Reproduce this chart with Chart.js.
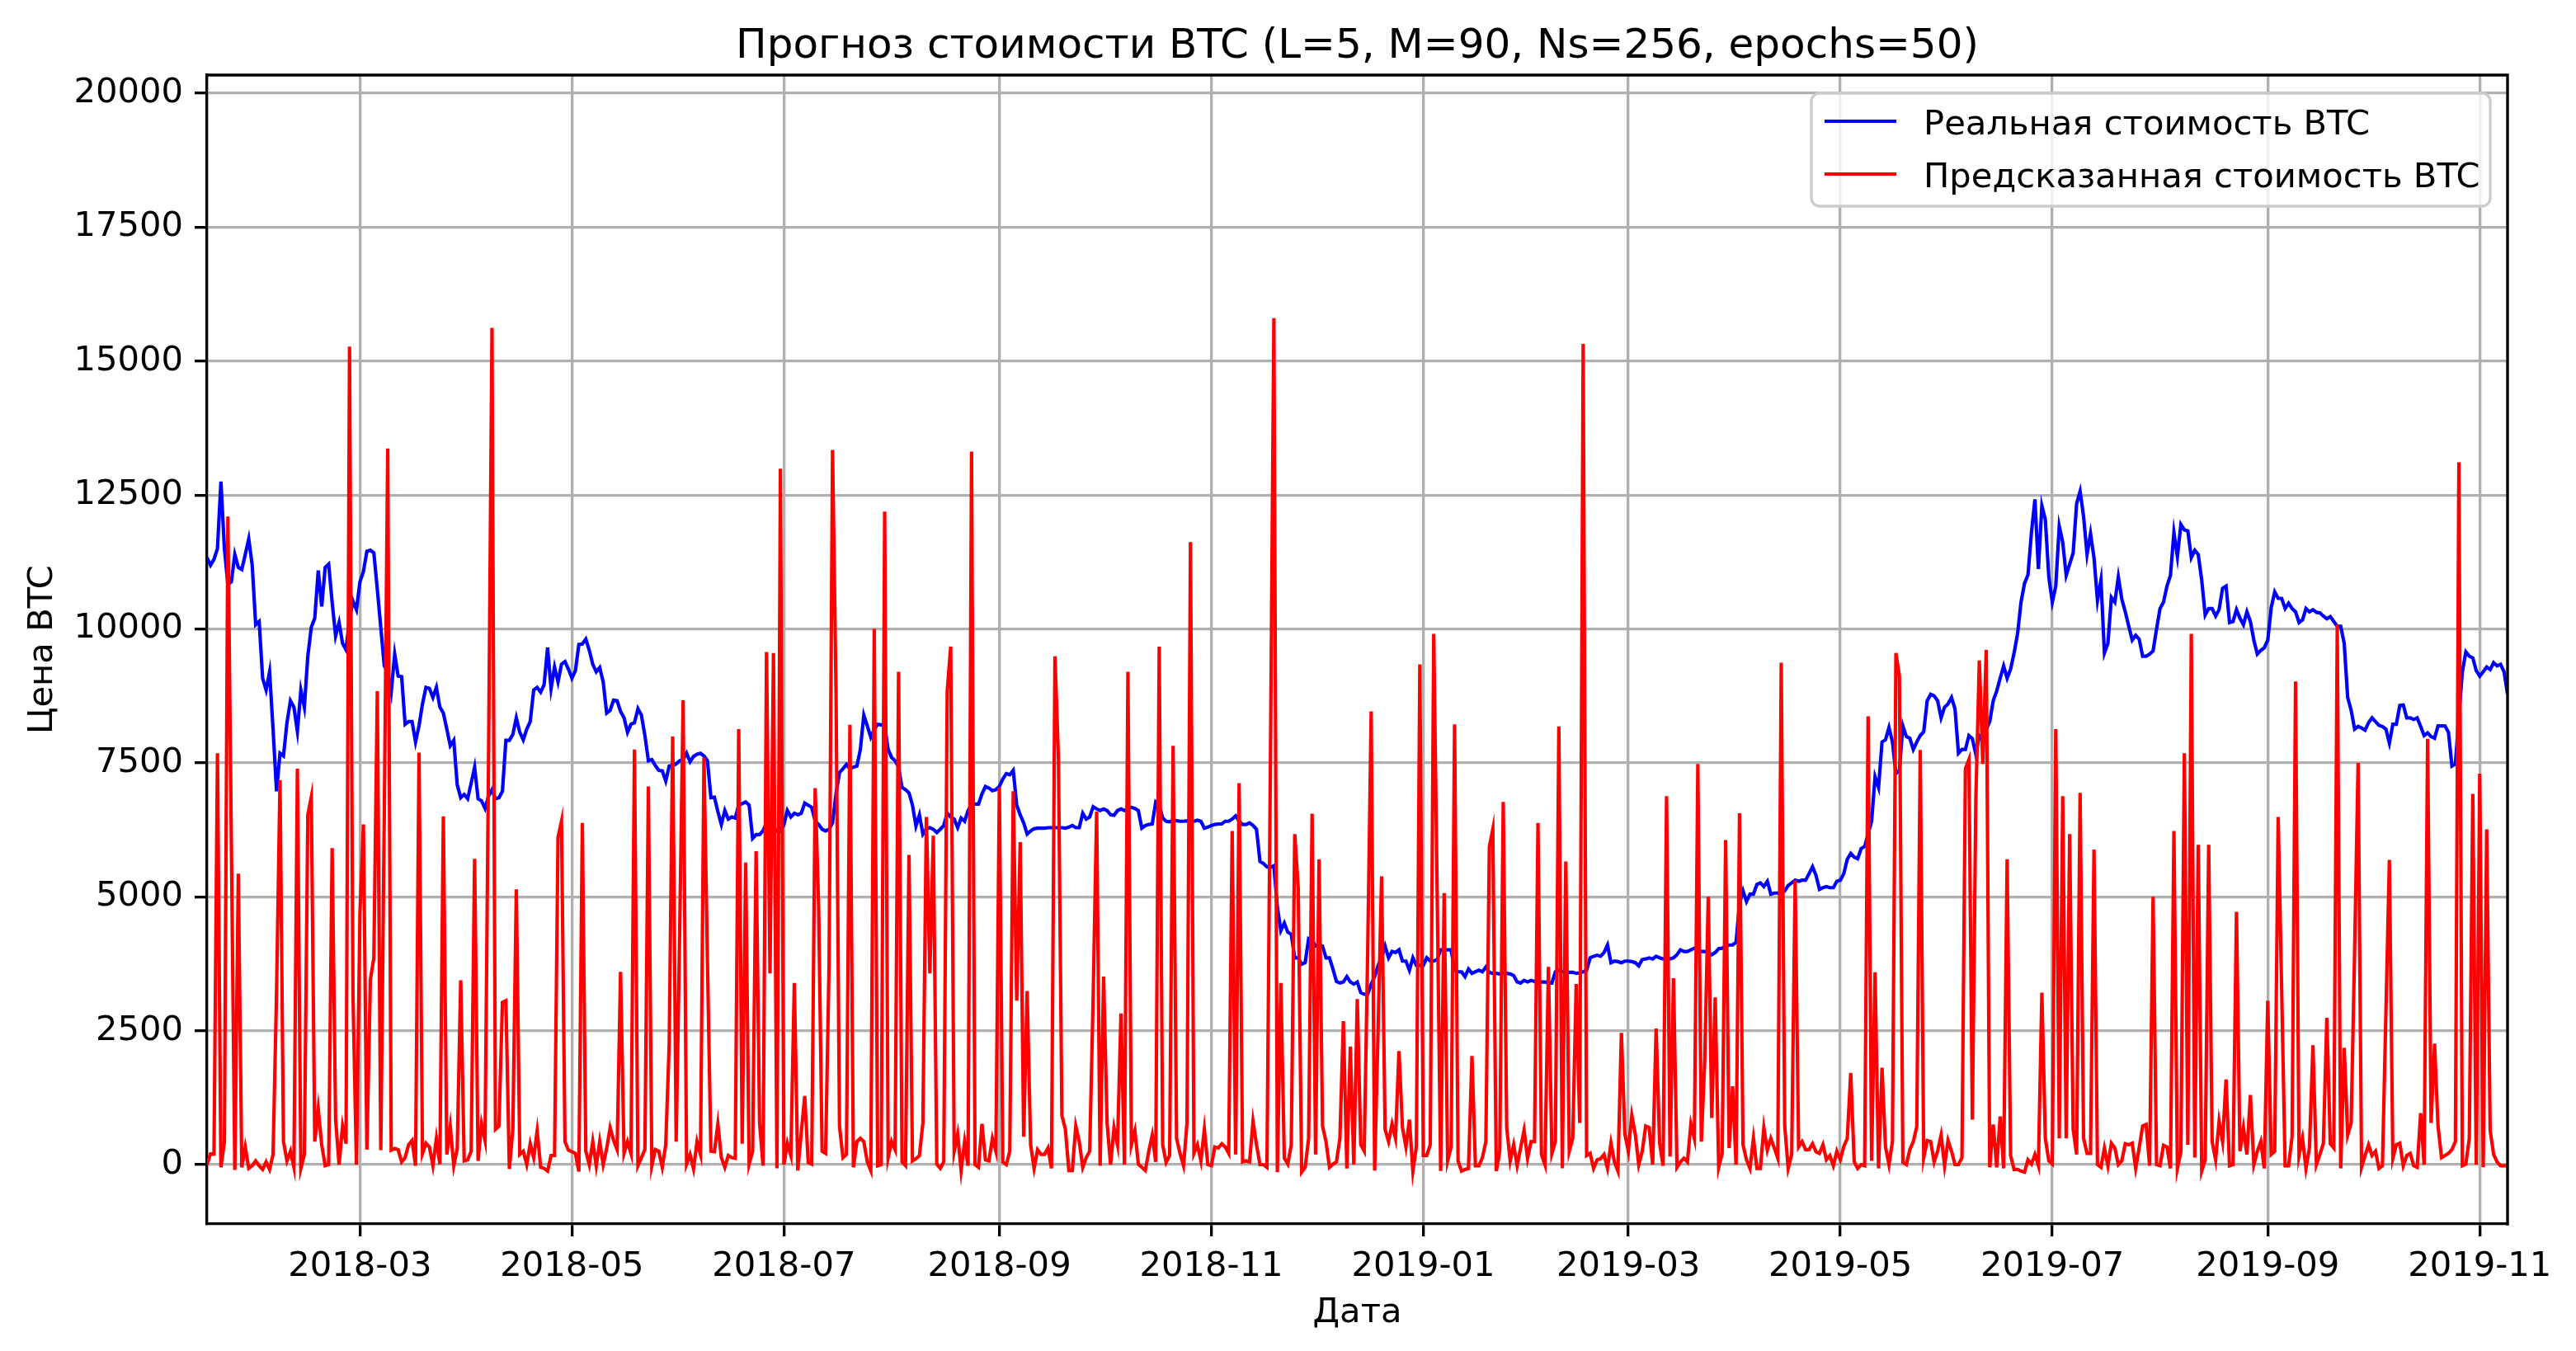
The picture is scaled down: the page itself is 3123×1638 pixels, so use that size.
<!DOCTYPE html>
<html lang="ru">
<head>
    <meta charset="UTF-8">
    <title>Прогноз стоимости BTC</title>
    <script src="https://cdn.jsdelivr.net/npm/chart.js"></script>
    <style>
        html, body { margin: 0; padding: 0; background: #fff; }
        canvas { display: block; }
    </style>
</head>
<body>
<canvas id="grafico" width="3123" height="1638"></canvas>

<script>
    // first day shown on the x axis, one point per day after it
    const startDate = '2018-01-16';

    const monthTicks = ['2018-03', '2018-05', '2018-07', '2018-09', '2018-11',
        '2019-01', '2019-03', '2019-05', '2019-07', '2019-09', '2019-11'];

    const priceTicks = [0, 2500, 5000, 7500, 10000, 12500, 15000, 17500, 20000];

    const realPrice = [
        11330, 11190, 11300, 11500, 12750, 11500, 10830, 10880, 11390, 11150,
        11110, 11390, 11680, 11190, 10080, 10140, 9080, 8860, 9200, 8130,
        6970, 7680, 7630, 8250, 8660, 8540, 8090, 8860, 8540, 9490,
        10030, 10200, 11090, 10420, 11150, 11210, 10500, 9870, 10120, 9730,
        9610, 10200, 10520, 10360, 10880, 11070, 11450, 11470, 11420, 10740,
        10030, 9310, 9200, 8820, 9530, 9120, 9110, 8220, 8270, 8270,
        7890, 8190, 8600, 8910, 8890, 8720, 8910, 8540, 8430, 8130,
        7820, 7920, 7090, 6850, 6910, 6830, 7120, 7420, 6830, 6790,
        6650, 6880, 7000, 6830, 6850, 6970, 7920, 7920, 8030, 8340,
        8070, 7930, 8130, 8270, 8860, 8910, 8820, 8960, 9650, 8890,
        9290, 9010, 9340, 9390, 9250, 9080, 9220, 9710, 9720, 9810,
        9600, 9340, 9200, 9280, 9010, 8430, 8480, 8670, 8660, 8460,
        8340, 8070, 8220, 8250, 8510, 8390, 8010, 7540, 7560, 7450,
        7360, 7350, 7160, 7440, 7450, 7480, 7540, 7560, 7680, 7520,
        7620, 7660, 7680, 7630, 7540, 6850, 6860, 6590, 6350, 6610,
        6450, 6490, 6470, 6710, 6740, 6770, 6710, 6090, 6160, 6160,
        6230, 6380, 6110, 6290, 6230, 6230, 6350, 6610, 6490, 6560,
        6530, 6560, 6750, 6710, 6670, 6410, 6350, 6260, 6230, 6260,
        6380, 6920, 7320, 7390, 7470, 7390, 7420, 7440, 7750, 8390,
        8190, 7980, 8130, 8220, 8210, 8190, 7750, 7600, 7540, 7420,
        7040, 7000, 6940, 6710, 6320, 6530, 6170, 6270, 6290, 6260,
        6200, 6260, 6330, 6560, 6490, 6450, 6290, 6470, 6410, 6610,
        6710, 6730, 6730, 6920, 7060, 7030, 6980, 7000, 7060, 7200,
        7300, 7280, 7360, 6710, 6530, 6380, 6170, 6230, 6270, 6280,
        6280, 6280, 6290, 6290, 6290, 6290, 6290, 6280, 6300, 6330,
        6290, 6290, 6560, 6450, 6490, 6680, 6640, 6610, 6640, 6610,
        6530, 6520, 6610, 6640, 6610, 6650, 6670, 6650, 6610, 6280,
        6330, 6350, 6360, 6770, 6710, 6470, 6410, 6400, 6430, 6420,
        6410, 6410, 6420, 6400, 6410, 6430, 6410, 6280, 6300, 6330,
        6350, 6360, 6360, 6410, 6410, 6450, 6510, 6410, 6350, 6350,
        6380, 6330, 6260, 5660, 5620, 5560, 5550, 5580, 4810, 4370,
        4510, 4340, 4300, 3860, 3860, 3740, 3770, 4220, 4190, 4080,
        4100, 4080, 3860, 3860, 3650, 3420, 3390, 3410, 3510, 3410,
        3370, 3410, 3210, 3180, 3180, 3370, 3510, 3720, 3860, 4080,
        3860, 3980, 3960, 4010, 3800, 3800, 3630, 3860, 3720, 3720,
        3720, 3860, 3800, 3800, 3830, 4010, 4010, 4010, 4010, 3630,
        3600, 3600, 3510, 3650, 3570, 3600, 3630, 3600, 3690, 3590,
        3570, 3570, 3560, 3570, 3570, 3560, 3530, 3410, 3390, 3440,
        3410, 3440, 3420, 3410, 3410, 3410, 3390, 3390, 3600, 3630,
        3600, 3600, 3590, 3590, 3570, 3580, 3600, 3630, 3860, 3890,
        3910, 3890, 3960, 4100, 3770, 3800, 3790, 3770, 3800, 3800,
        3790, 3770, 3710, 3830, 3840, 3860, 3840, 3890, 3860, 3840,
        3860, 3840, 3860, 3920, 4010, 3980, 3980, 4010, 4040, 4010,
        3980, 3980, 3960, 3920, 3960, 4030, 4040, 4080, 4100, 4100,
        4150, 4880, 5110, 4910, 5050, 5050, 5230, 5260, 5190, 5290,
        5050, 5070, 5070, 5050, 5110, 5210, 5260, 5310, 5290, 5310,
        5310, 5430, 5560, 5400, 5140, 5170, 5190, 5170, 5170, 5290,
        5310, 5430, 5700, 5810, 5740, 5710, 5900, 5940, 6170, 6410,
        7240, 7040, 7890, 7930, 8160, 7890, 7300, 7360, 8190, 7990,
        7960, 7750, 7890, 8010, 8080, 8660, 8780, 8750, 8660, 8340,
        8540, 8600, 8720, 8510, 7680, 7750, 7750, 8010, 7950, 7660,
        8010, 7950, 8130, 8270, 8660, 8840, 9080, 9310, 9080, 9250,
        9550, 9910, 10500, 10850, 11010, 11800, 12420, 11120, 12300, 12040,
        10970, 10500, 10800, 11920, 11620, 11000, 11210, 11420, 12340, 12570,
        12100, 11390, 11780, 11330, 10530, 10910, 9550, 9730, 10590, 10500,
        10970, 10560, 10320, 10050, 9790, 9880, 9810, 9490, 9490, 9530,
        9590, 10000, 10380, 10500, 10800, 11000, 11800, 11350, 11950, 11850,
        11830, 11330, 11470, 11390, 10910, 10260, 10380, 10380, 10240, 10360,
        10760, 10800, 10120, 10140, 10360, 10200, 10080, 10320, 10140, 9790,
        9530, 9600, 9650, 9790, 10400, 10690, 10570, 10570, 10380, 10480,
        10380, 10320, 10120, 10170, 10380, 10320, 10360, 10310, 10300, 10240,
        10190, 10230, 10140, 10050, 10050, 9730, 8720, 8480, 8130, 8180,
        8150, 8110, 8250, 8340, 8270, 8200, 8180, 8130, 7870, 8220,
        8220, 8570, 8580, 8340, 8340, 8310, 8340, 8180, 8010, 8060,
        7990, 7960, 8190, 8190, 8190, 8070, 7440, 7480, 8370, 9200,
        9570, 9490, 9460, 9220, 9120, 9200, 9290, 9240, 9370, 9310,
        9340, 9200, 8780
    ];

    const predPrice = [
        0, 200, 200, 7680, -50, 430, 12100, 6000, -100, 5430,
        -50, 330, -70, -20, 70, -20, -90, 50, -90, 190,
        3200, 7180, 430, 70, 250, -50, 7390, -70, 190, 6530,
        6860, 430, 1040, 370, -20, 0, 5910, 840, 0, 720,
        390, 15270, 3150, 0, 4690, 6350, 280, 3450, 3860, 8840,
        270, 6500, 13370, 270, 300, 280, 50, 130, 370, 450,
        -20, 7690, 210, 400, 330, -20, 490, 10, 6500, 190,
        710, -20, 300, 3440, 70, 90, 250, 5710, 70, 760,
        450, 7500, 15620, 660, 720, 3030, 3060, -80, 660, 5140,
        190, 250, 0, 390, 130, 630, -50, -70, -120, 170,
        170, 6110, 6410, 430, 270, 240, 210, -130, 6380, 250,
        0, 430, -20, 430, 0, 300, 690, 450, 280, 3600,
        210, 430, 210, 7750, -20, 130, 280, 7060, -20, 280,
        250, -50, 370, 2260, 7990, 430, 4300, 8670, 10, 190,
        -80, 430, 190, 7600, 3800, 250, 240, 760, 130, -50,
        170, 130, 120, 8130, 390, 5640, 10, 250, 5850, 780,
        -20, 9570, 3570, 9550, -70, 12990, 0, 400, 170, 3390,
        -110, 600, 1280, 40, 10, 7030, 4810, 250, 210, 3740,
        13340, 8840, 720, 130, 190, 8210, -50, 430, 490, 430,
        50, -110, 10000, -20, 0, 12190, 130, 430, 280, 9200,
        50, -20, 5780, 70, 110, 170, 780, 6490, 3570, 6140,
        10, -70, 50, 8840, 9670, 250, 570, -110, 430, -20,
        13310, 0, -50, 760, 90, 70, 490, 250, 7040, 50,
        0, 250, 6970, 3060, 6020, 520, 3240, 370, -70, 280,
        190, 190, 310, -70, 9490, 7600, 920, 660, -110, -110,
        720, 430, -50, 130, 250, 3150, 6590, -20, 3510, 780,
        0, 690, 370, 2820, 0, 9200, 370, 630, 10, -50,
        -110, 250, 550, 50, 9670, 370, 40, 170, 7820, 490,
        210, -20, 780, 11620, 210, 370, 70, 660, 0, -20,
        330, 310, 390, 330, 210, 6230, 190, 7120, 50, 70,
        50, 810, 370, 0, 0, -50, 7500, 15800, -140, 3390,
        120, 10, 370, 6170, 5170, -140, -50, 490, 6550, 190,
        5700, 720, 430, -50, 10, 50, 490, 2680, -70, 2200,
        0, 3090, 370, 250, 4000, 8460, -110, 2560, 5380, 660,
        430, 760, 490, 2120, 690, 330, 840, -120, 330, 9340,
        170, 170, 370, 9910, 5000, -120, 5070, 70, 330, 8220,
        70, -120, -90, -70, 2030, -20, -20, 130, 430, 5930,
        6260, -120, 250, 6770, 690, 70, 370, -20, 310, 640,
        120, 430, 430, 6380, 190, 0, 3690, 210, 430, 8180,
        -70, 5660, 250, 490, 3370, 780, 15320, 170, 210, -70,
        90, 110, 190, -70, 400, 50, -120, 2460, 570, 250,
        920, 570, 0, 250, 720, 690, 0, 2540, 400, -20,
        6880, 150, 3480, -50, 50, 120, 50, 760, 490, 7480,
        430, 1970, 5000, 870, 3120, -50, 210, 6060, 310, 1460,
        0, 6560, 370, 90, -70, 490, -70, -70, 690, 270,
        490, 310, 120, 9370, 720, -70, 190, 5310, 330, 430,
        280, 280, 390, 240, 210, 370, 90, 170, -20, 250,
        90, 340, 490, 1710, 50, -70, 0, -20, 8370, 70,
        3590, -70, 1810, 330, 0, 430, 9550, 9120, 40, 0,
        280, 430, 710, 7740, 130, 450, 430, 50, 250, 550,
        -20, 450, 250, 0, 0, 130, 7390, 7560, 840, 6830,
        9410, 7480, 9610, -50, 750, -50, 900, -70, 5700, 170,
        -90, -90, -120, -140, 90, 10, 190, -20, 3210, 490,
        70, 10, 8130, 490, 6880, 490, 6170, 660, 190, 6940,
        490, 210, 210, 5880, 0, -50, 310, -20, 400, 310,
        0, 70, 390, 370, 400, -70, 310, 720, 750, -20,
        5000, 0, -20, 360, 330, -70, 6230, -70, 240, 7680,
        370, 9910, 130, 5970, -120, 90, 5970, 430, 90, 810,
        430, 1590, -20, 0, 4720, 250, 690, 190, 1300, 0,
        250, 430, -70, 3060, 190, 250, 6490, 3270, -20, -20,
        520, 9020, 170, 490, -70, 310, 2230, 0, 190, 390,
        2740, 390, 310, 10080, -70, 2180, 550, 780, 4000, 7500,
        -50, 170, 370, 170, 250, -70, -20, 2830, 5690, 120,
        370, 400, -20, 170, 210, -20, -50, 960, 0, 7950,
        780, 2260, 720, 130, 170, 210, 280, 430, 13110, -20,
        10, 490, 6920, 0, 7300, -50, 6260, 640, 190, 50,
        -20, -20, -20
    ];

    const DAY = 86400000;
    const t0 = Date.parse(startDate + 'T00:00:00Z');
    const tickDays = monthTicks.map(m => (Date.parse(m + '-01T00:00:00Z') - t0) / DAY);

    const FONT = 'DejaVu Sans';
    const FS = 41.7;      // 10pt at 300 dpi
    const TITLE_FS = 50;  // 12pt
    const LW = 4.17;      // 1pt line
    const THIN = 3.33;    // 0.8pt

    const toPoints = arr => arr.map((v, i) => ({ x: i, y: v }));

    // title, axis labels, top/right spines and the framed legend
    const decor = {
        id: 'decor',
        afterDraw(chart) {
            const ctx = chart.ctx;
            const a = chart.chartArea;
            ctx.save();

            ctx.strokeStyle = '#000';
            ctx.lineWidth = THIN;
            ctx.lineCap = 'square';
            ctx.beginPath();
            ctx.moveTo(a.left, a.top);
            ctx.lineTo(a.right, a.top);
            ctx.lineTo(a.right, a.bottom);
            ctx.stroke();

            ctx.fillStyle = '#000';
            ctx.textAlign = 'center';
            ctx.textBaseline = 'alphabetic';
            ctx.font = TITLE_FS + 'px "' + FONT + '"';
            ctx.fillText('Прогноз стоимости BTC (L=5, M=90, Ns=256, epochs=50)', (a.left + a.right) / 2, 70);

            ctx.font = FS + 'px "' + FONT + '"';
            ctx.fillText('Дата', (a.left + a.right) / 2, 1603);

            ctx.save();
            ctx.translate(63, (a.top + a.bottom) / 2);
            ctx.rotate(-Math.PI / 2);
            ctx.fillText('Цена BTC', 0, 0);
            ctx.restore();

            // legend box
            const bx = 2196, by = 113, bw = 823, bh = 137, r = 10;
            ctx.beginPath();
            ctx.moveTo(bx + r, by);
            ctx.arcTo(bx + bw, by, bx + bw, by + bh, r);
            ctx.arcTo(bx + bw, by + bh, bx, by + bh, r);
            ctx.arcTo(bx, by + bh, bx, by, r);
            ctx.arcTo(bx, by, bx + bw, by, r);
            ctx.closePath();
            ctx.fillStyle = 'rgba(255,255,255,0.8)';
            ctx.fill();
            ctx.strokeStyle = '#cccccc';
            ctx.lineWidth = THIN;
            ctx.stroke();

            const items = [
                { label: 'Реальная стоимость BTC', color: 'blue', y: 147, base: 163 },
                { label: 'Предсказанная стоимость BTC', color: 'red', y: 211, base: 227 }
            ];
            ctx.lineCap = 'butt';
            items.forEach(it => {
                ctx.strokeStyle = it.color;
                ctx.lineWidth = LW;
                ctx.beginPath();
                ctx.moveTo(2212, it.y);
                ctx.lineTo(2299, it.y);
                ctx.stroke();
                ctx.fillStyle = '#000';
                ctx.textAlign = 'left';
                ctx.fillText(it.label, 2332, it.base);
            });

            ctx.restore();
        }
    };

    const ctx = document.getElementById('grafico').getContext('2d');
    const chart = new Chart(ctx, {
        type: 'line',
        data: {
            datasets: [
                {
                    label: 'Реальная стоимость BTC',
                    data: toPoints(realPrice),
                    borderColor: 'blue',
                    borderWidth: LW,
                    pointRadius: 0,
                    tension: 0,
                    fill: false,
                    order: 2
                },
                {
                    label: 'Предсказанная стоимость BTC',
                    data: toPoints(predPrice),
                    borderColor: 'red',
                    borderWidth: LW,
                    pointRadius: 0,
                    tension: 0,
                    fill: false,
                    order: 1
                }
            ]
        },
        options: {
            responsive: false,
            animation: false,
            devicePixelRatio: 1,
            layout: { padding: { top: 91, right: 83, left: 0, bottom: 0 } },
            plugins: {
                legend: { display: false },
                title: { display: false },
                tooltip: { enabled: false }
            },
            scales: {
                x: {
                    type: 'linear',
                    min: 0,
                    max: realPrice.length - 1,
                    afterBuildTicks: scale => {
                        scale.ticks = tickDays.map(v => ({ value: v }));
                    },
                    afterFit: scale => { scale.height = 154; },
                    ticks: {
                        autoSkip: false,
                        maxRotation: 0,
                        padding: 12,
                        color: '#000',
                        font: { family: FONT, size: FS },
                        callback: value => monthTicks[tickDays.indexOf(value)] || ''
                    },
                    grid: {
                        color: '#b0b0b0',
                        lineWidth: THIN,
                        tickColor: '#000',
                        tickWidth: THIN,
                        tickLength: 15
                    },
                    border: { color: '#000', width: THIN }
                },
                y: {
                    type: 'linear',
                    min: -1108,
                    max: 20340,
                    afterBuildTicks: scale => {
                        scale.ticks = priceTicks.map(v => ({ value: v }));
                    },
                    afterFit: scale => { scale.width = 251; },
                    ticks: {
                        padding: 14,
                        color: '#000',
                        font: { family: FONT, size: FS },
                        callback: value => String(value)
                    },
                    grid: {
                        color: '#b0b0b0',
                        lineWidth: THIN,
                        tickColor: '#000',
                        tickWidth: THIN,
                        tickLength: 15
                    },
                    border: { color: '#000', width: THIN }
                }
            }
        },
        plugins: [decor]
    });
</script>
</body>
</html>
